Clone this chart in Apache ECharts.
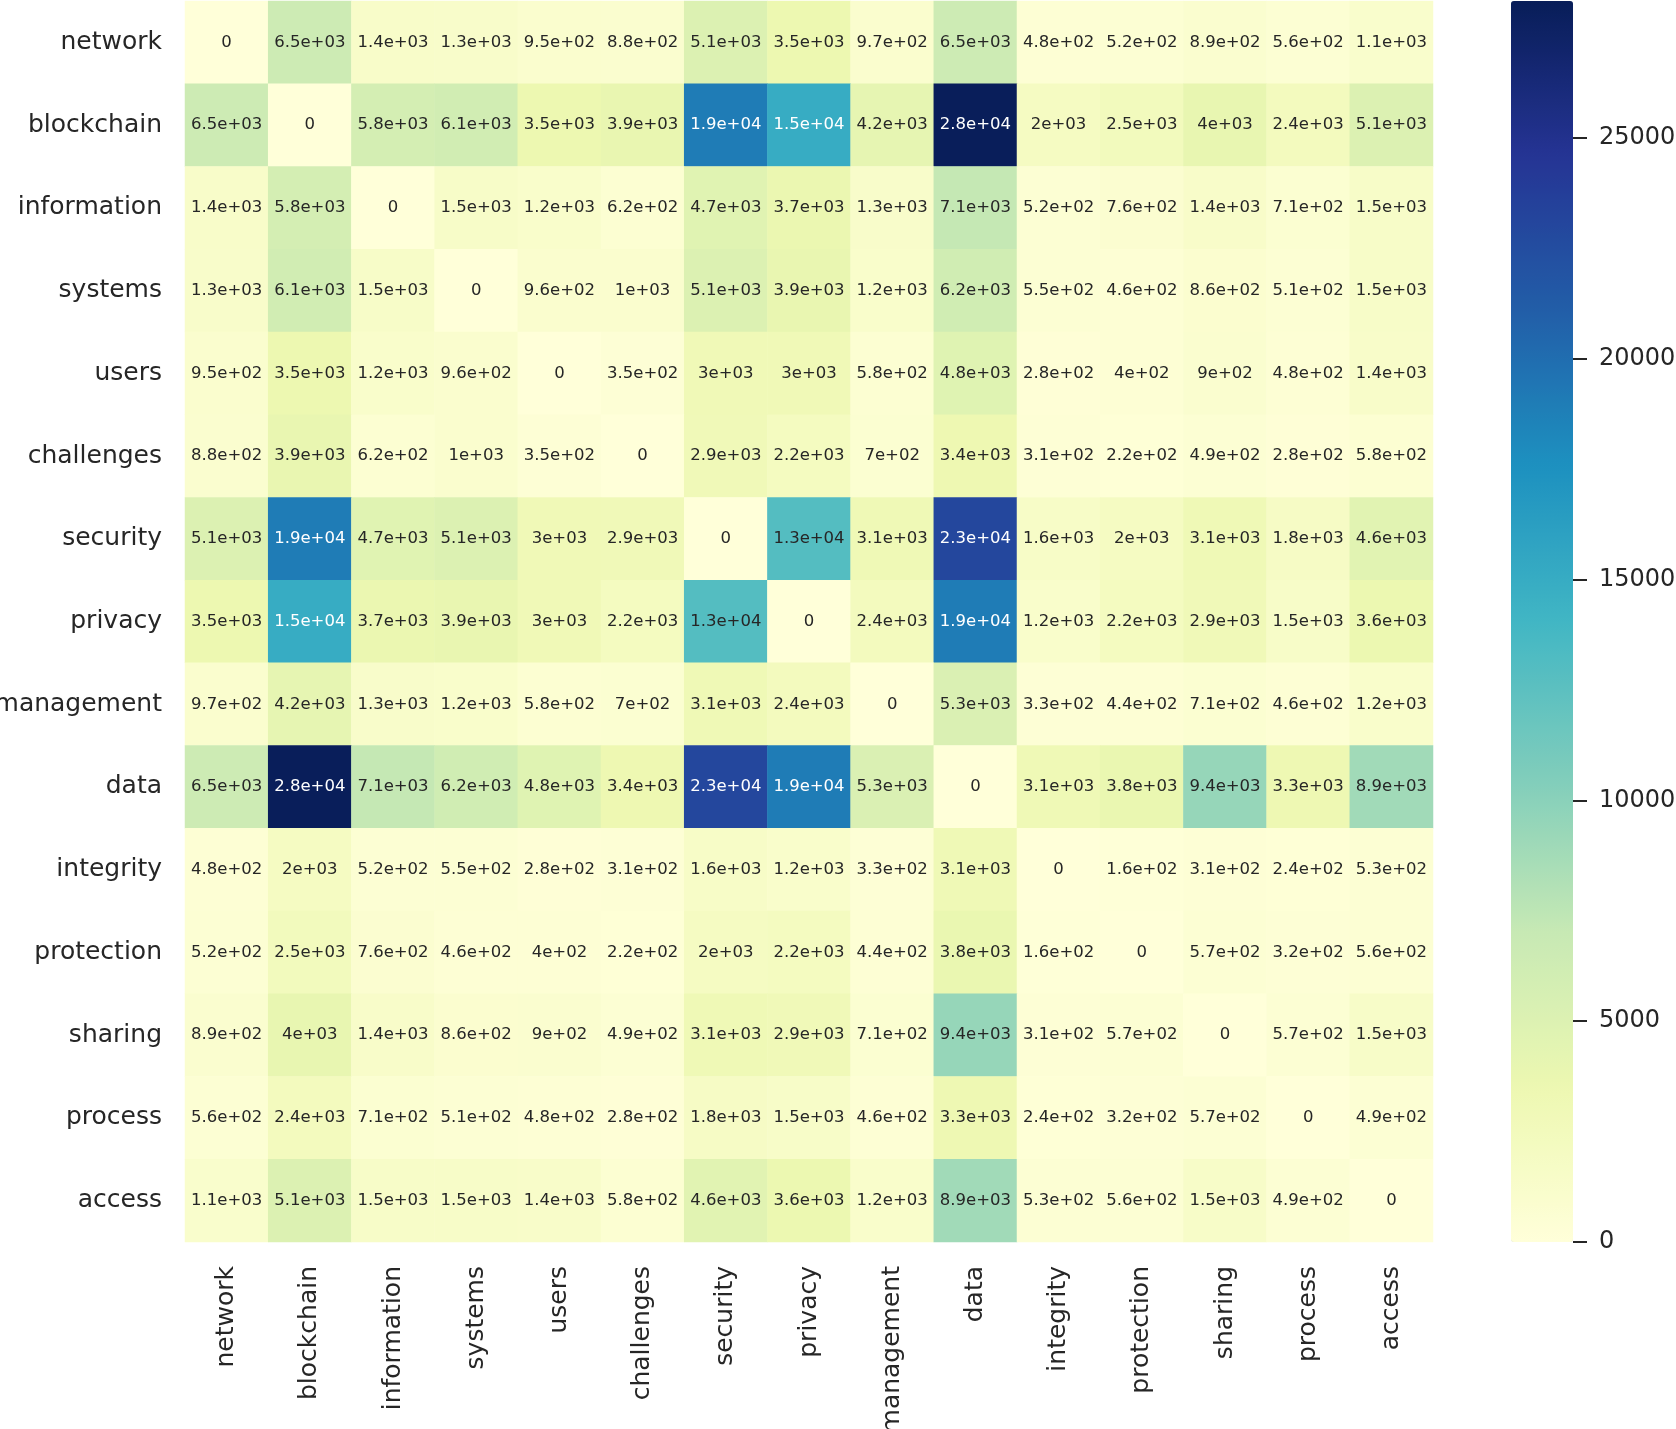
<!DOCTYPE html>
<html>
<head>
<meta charset="utf-8">
<script src="https://cdn.jsdelivr.net/npm/echarts@6/dist/echarts.min.js"></script>
<style>
  html, body { margin: 0; padding: 0; background: #fff; }
  #main { width: 1676px; height: 1429px; }
</style>
</head>
<body>
<div id="main"></div>
<script>
// 词语列表 (x 和 y 相同)
const words = ['network', 'blockchain', 'information', 'systems', 'users', 'challenges', 'security',
  'privacy', 'management', 'data', 'integrity', 'protection', 'sharing', 'process', 'access'];

// 共现矩阵, 每行一个词
const network     = [0, 6500, 1400, 1300, 950, 880, 5100, 3500, 970, 6500, 480, 520, 890, 560, 1100];
const blockchain  = [6500, 0, 5800, 6100, 3500, 3900, 19000, 15000, 4200, 28000, 2000, 2500, 4000, 2400, 5100];
const information = [1400, 5800, 0, 1500, 1200, 620, 4700, 3700, 1300, 7100, 520, 760, 1400, 710, 1500];
const systems     = [1300, 6100, 1500, 0, 960, 1000, 5100, 3900, 1200, 6200, 550, 460, 860, 510, 1500];
const users       = [950, 3500, 1200, 960, 0, 350, 3000, 3000, 580, 4800, 280, 400, 900, 480, 1400];
const challenges  = [880, 3900, 620, 1000, 350, 0, 2900, 2200, 700, 3400, 310, 220, 490, 280, 580];
const security    = [5100, 19000, 4700, 5100, 3000, 2900, 0, 13000, 3100, 23000, 1600, 2000, 3100, 1800, 4600];
const privacy     = [3500, 15000, 3700, 3900, 3000, 2200, 13000, 0, 2400, 19000, 1200, 2200, 2900, 1500, 3600];
const management  = [970, 4200, 1300, 1200, 580, 700, 3100, 2400, 0, 5300, 330, 440, 710, 460, 1200];
const data        = [6500, 28000, 7100, 6200, 4800, 3400, 23000, 19000, 5300, 0, 3100, 3800, 9400, 3300, 8900];
const integrity   = [480, 2000, 520, 550, 280, 310, 1600, 1200, 330, 3100, 0, 160, 310, 240, 530];
const protection  = [520, 2500, 760, 460, 400, 220, 2000, 2200, 440, 3800, 160, 0, 570, 320, 560];
const sharing     = [890, 4000, 1400, 860, 900, 490, 3100, 2900, 710, 9400, 310, 570, 0, 570, 1500];
const process     = [560, 2400, 710, 510, 480, 280, 1800, 1500, 460, 3300, 240, 320, 570, 0, 490];
const access      = [1100, 5100, 1500, 1500, 1400, 580, 4600, 3600, 1200, 8900, 530, 560, 1500, 490, 0];

const rows = [network, blockchain, information, systems, users, challenges, security,
  privacy, management, data, integrity, protection, sharing, process, access];

// 色条刻度
const tickMax = 25000;
const tickStep = 5000;
const vmax = 28100;

// YlGnBu 色带
const ylgnbu = ['#ffffd9', '#edf8b1', '#c7e9b4', '#7fcdbb', '#41b6c4', '#1d91c0', '#225ea8', '#253494', '#081d58'];
const dark = '#262626';
const font = 'DejaVu Sans';

// 色条位置
const barLeft = 1511, barW = 62, barTop = 1, barH = 1241;
// 刻度轴只覆盖 0 ~ 25000 那一段, 放在色条右边
const axisH = barH * tickMax / vmax;
const axisTop = barTop + barH - axisH;

// 仿 python 的 '.2g' 格式
function fmt(v) {
    if (v === 0) return '0';
    let parts = v.toExponential(1).split('e');
    let mant = parts[0].replace(/\.0$/, '');
    let ex = parseInt(parts[1], 10);
    let a = Math.abs(ex);
    return mant + 'e' + (ex < 0 ? '-' : '+') + (a < 10 ? '0' + a : a);
}

let cells = [];
rows.forEach(function (row, yi) {
    row.forEach(function (v, xi) {
        cells.push({
            value: [xi, yi, v],
            // 深色格子用白字
            label: { color: v >= 14000 ? '#ffffff' : dark }
        });
    });
});

let myChart = echarts.init(document.getElementById('main'));
let option = {
    backgroundColor: '#ffffff',
    animation: false,
    textStyle: { fontFamily: font },
    grid: [
        { left: 185, top: 1, width: 1248, height: 1241, outerBoundsMode: 'none' },
        { left: barLeft + barW, top: axisTop, width: 1, height: axisH, outerBoundsMode: 'none' }
    ],
    xAxis: [
        {
            type: 'category',
            data: words,
            gridIndex: 0,
            axisLine: { show: false },
            axisTick: { show: false },
            splitLine: { show: false },
            axisLabel: { rotate: 90, margin: 24, fontSize: 25, color: dark, fontFamily: font }
        },
        { type: 'value', gridIndex: 1, show: false }
    ],
    yAxis: [
        {
            type: 'category',
            data: words,
            inverse: true,
            gridIndex: 0,
            axisLine: { show: false },
            axisTick: { show: false },
            splitLine: { show: false },
            axisLabel: { margin: 23, fontSize: 25, color: dark, fontFamily: font }
        },
        {
            type: 'value',
            gridIndex: 1,
            min: 0,
            max: tickMax,
            interval: tickStep,
            position: 'right',
            z: 10,
            axisLine: { show: true, lineStyle: { color: 'rgba(0,0,0,0)' } },
            splitLine: { show: false },
            axisTick: {
                show: true,
                inside: false,
                length: 14,
                lineStyle: { color: dark, width: 2 }
            },
            axisLabel: {
                margin: 25,
                fontSize: 24,
                color: dark,
                fontFamily: font,
                formatter: function (v) { return String(v); }
            }
        }
    ],
    visualMap: {
        type: 'continuous',
        seriesIndex: 0,
        min: 0,
        max: vmax,
        calculable: false,
        hoverLink: false,
        left: barLeft,
        top: barTop,
        padding: 0,
        itemWidth: barW,
        itemHeight: barH,
        text: null,
        showLabel: false,
        inRange: { color: ylgnbu }
    },
    series: [{
        type: 'heatmap',
        xAxisIndex: 0,
        yAxisIndex: 0,
        data: cells,
        itemStyle: { borderWidth: 0 },
        label: {
            show: true,
            fontSize: 16.5,
            fontFamily: font,
            formatter: function (p) { return fmt(p.value[2]); }
        },
        emphasis: { disabled: true }
    }]
};
myChart.setOption(option);
</script>
</body>
</html>
